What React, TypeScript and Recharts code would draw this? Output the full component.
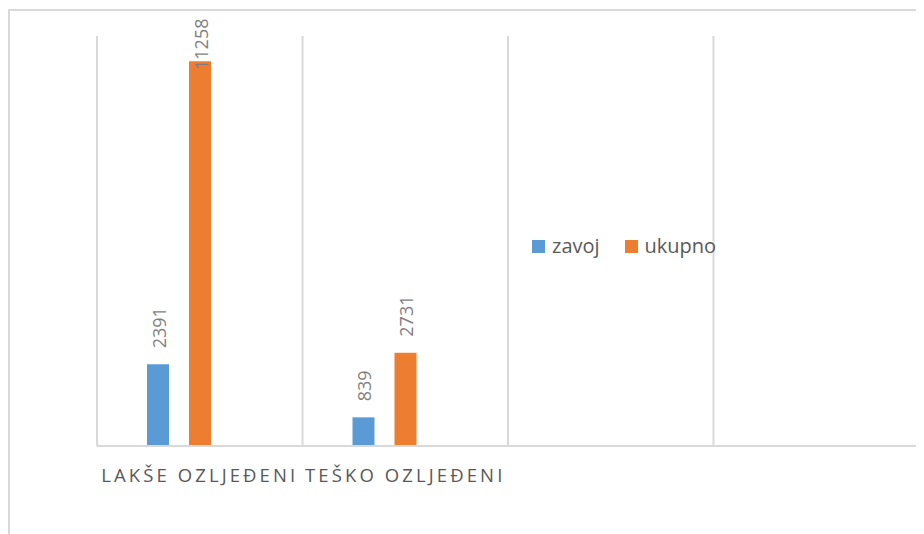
import React, { useLayoutEffect } from 'react';
import { BarChart, Bar, XAxis, YAxis, CartesianGrid, LabelList } from 'recharts';

const categories = ['LAKŠE OZLJEĐENI', 'TEŠKO OZLJEĐENI', '', ''];
const zavoj: (number | null)[] = [2391, 839, null, null];
const ukupno: (number | null)[] = [11258, 2731, null, null];
const treci: (number | null)[] = [null, null, null, null];

const seriesNames = { zavoj: 'zavoj', ukupno: 'ukupno' };
const colors = { zavoj: '#5b9bd5', ukupno: '#ed7d31' };

const data = categories.map((c, i) => ({
  name: c,
  zavoj: zavoj[i],
  ukupno: ukupno[i],
  treci: treci[i],
}));

const FONT = '"Open Sans", "Liberation Sans", sans-serif';
const PLOT_TOP = 28;

const RotLabel = (props: any) => {
  const { x, y, width, value } = props;
  if (value === null || value === undefined) return null;
  const s = String(value);
  const len = s.length * 10.4;
  const cx = Number(x) + Number(width) / 2 + 8;
  const ay = Math.max(Number(y) - 16, PLOT_TOP - 18 + len);
  return (
    <text
      x={cx}
      y={ay}
      transform={`rotate(-90 ${cx} ${ay})`}
      fill="#7f7f7f"
      fontSize={18}
      fontFamily={FONT}
      textAnchor="start"
    >
      {s}
    </text>
  );
};

const Tick = (props: any) => {
  const { x, y, payload } = props;
  if (!payload || !payload.value) return null;
  return (
    <text
      x={x}
      y={y + 27.5}
      fill="#595959"
      fontSize={18.5}
      fontFamily={FONT}
      textAnchor="middle"
      letterSpacing={3.1}
    >
      {payload.value}
    </text>
  );
};

const LegendBox = () => (
  <div
    style={{
      position: 'absolute',
      left: 524,
      top: 226,
      display: 'flex',
      alignItems: 'center',
      fontFamily: FONT,
      fontSize: 20,
      color: '#595959',
    }}
  >
    {(['zavoj', 'ukupno'] as const).map((k, i) => (
      <div key={k} style={{ display: 'flex', alignItems: 'center', marginRight: i === 0 ? 25 : 0 }}>
        <span style={{ display: 'inline-block', width: 13, height: 13, background: colors[k], marginRight: 7 }} />
        <span style={{ lineHeight: '24px' }}>{seriesNames[k]}</span>
      </div>
    ))}
  </div>
);

export default function App() {
  useLayoutEffect(() => {
    document.documentElement.style.overflow = 'hidden';
    document.body.style.overflow = 'hidden';
  }, []);
  return (
    <div style={{ position: 'relative', width: 1000, height: 600, overflow: 'hidden' }}>
      <div
        style={{
          position: 'absolute',
          left: 0,
          top: 1,
          width: 1200,
          height: 1200,
          borderLeft: '2px solid #d9d9d9',
          borderTop: '2px solid #d9d9d9',
          boxSizing: 'border-box',
        }}
      />
      <div style={{ position: 'absolute', left: 0, top: 0 }}>
        <BarChart
          width={920}
          height={526}
          data={data}
          margin={{ top: 28, right: 9, left: 89, bottom: 28 }}
          barSize={22}
          barGap={20}
        >
          <CartesianGrid
            horizontal={false}
            stroke="#d9d9d9"
            strokeWidth={2}
            verticalCoordinatesGenerator={(p: any) => {
              const o = p.offset;
              return [0, 1, 2, 3, 4].map((i) => o.left + (i * o.width) / 4);
            }}
          />
          <XAxis
            dataKey="name"
            height={60}
            tickLine={false}
            axisLine={{ stroke: '#d9d9d9', strokeWidth: 2 }}
            tick={<Tick />}
            interval={0}
          />
          <YAxis hide domain={[0, 12000]} />
          <Bar dataKey="zavoj" name="zavoj" fill={colors.zavoj} isAnimationActive={false}>
            <LabelList dataKey="zavoj" content={<RotLabel />} />
          </Bar>
          <Bar dataKey="ukupno" name="ukupno" fill={colors.ukupno} isAnimationActive={false}>
            <LabelList dataKey="ukupno" content={<RotLabel />} />
          </Bar>
          <Bar dataKey="treci" name="" fill="#a5a5a5" legendType="none" isAnimationActive={false} />
        </BarChart>
      </div>
      <LegendBox />
    </div>
  );
}
